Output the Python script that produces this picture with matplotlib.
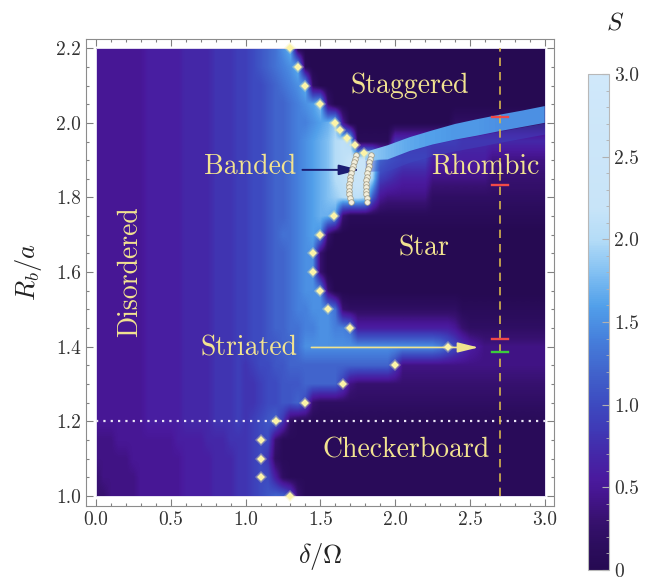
import numpy as np
import matplotlib
matplotlib.use('Agg')
import matplotlib.pyplot as plt
from matplotlib.colors import LinearSegmentedColormap
from matplotlib.patches import Rectangle, Polygon

plt.rcParams['font.family'] = 'cmr10'
plt.rcParams['mathtext.fontset'] = 'cm'
plt.rcParams['axes.unicode_minus'] = False

# S: delta = 0..3 (step 0.05), Rb = 2.2 -> 1.0 (step 0.05)
# one base-36 digit per cell, S = digit/10
B = "55555556666677778889"
S_rows = [
    B + "9abcdfh" + "0"*34,                                             # 2.20
    B + "9abcdefh" + "1" + "0"*32,                                      # 2.15
    B + "9aabcdefh" + "2" + "0"*31,                                     # 2.10
    B + "9aabccdefgi" + "3" + "0"*29,                                   # 2.05
    B + "9aabccdeefghj" + "5" + "0"*14 + "2"*13,                        # 2.00
    B + "9aabccdefghik" + "lk" + "1"*5 + "8"*9 + "7"*12,                # 1.95
    B + "9aabccdefghik" + "lmnnl" + "dba" + "9"*4 + "6"*8 + "4"*8,      # 1.90
    B + "9aabccdefghik" + "lmnnj" + "987" + "6"*4 + "4"*8 + "3"*8,      # 1.85
    B + "9aabccdefghij" + "kllkb5" + "4"*6 + "2"*16,                    # 1.80
    B + "9aabccdefghhg" + "3" + "1"*27,                                 # 1.75
    B + "9aabcddef" + "gf3" + "0"*29,                                   # 1.70
    B + "9aabccde" + "ff3" + "0"*30,                                    # 1.65
    B + "9aabccde" + "ff3" + "0"*30,                                    # 1.60
    B + "9aabccdef" + "ff3" + "0"*29,                                   # 1.55
    B + "9aabccdeeff" + "fd3" + "2"*15 + "1"*12,                        # 1.50
    B + "9aabccddeeffeed" + "6"*13 + "53" + "2"*11,                     # 1.45
    B + "9aabbccd" + "f"*18 + "eca865" + "4"*9,                         # 1.40
    B + "89aabbc" + "c"*13 + "9" + "4"*20,                              # 1.35
    B + "889aabbbccccc" + "94" + "3"*26,                                # 1.30
    B + "889aabbc" + "a3" + "2"*31,                                     # 1.25
    B + "89abc" + "82" + "1"*34,                                        # 1.20
    "44455555555666677788" + "89aa" + "3" + "1"*36,                     # 1.15
    "44444555555566667778" + "89a" + "82" + "1"*36,                     # 1.10
    "34444455555566667778" + "89aa" + "62" + "1"*35,                    # 1.05
    "33444455555566667778" + "89abcca" + "3" + "1"*33,                  # 1.00
]

# bright ridge on top of the rhombic phase
band_d = [1.80, 1.95, 2.10, 2.25, 2.40, 2.55, 2.70, 2.85, 3.00]
band_top = [1.922, 1.940, 1.962, 1.980, 1.997, 2.010, 2.022, 2.033, 2.045]
band_bot = [1.900, 1.902, 1.925, 1.942, 1.955, 1.966, 1.978, 1.989, 2.000]
band_s = [1.9, 1.75, 1.65, 1.6, 1.55, 1.55, 1.5, 1.5, 1.5]

# phase boundary points (yellow diamonds)
dia_d = [1.30, 1.35, 1.40, 1.50, 1.60, 1.63, 1.68, 1.73, 1.79,
         1.59, 1.50, 1.45, 1.45, 1.50, 1.55, 1.70, 2.35, 2.00, 1.65,
         1.40, 1.20, 1.10, 1.10, 1.10, 1.30]
dia_r = [2.20, 2.15, 2.10, 2.05, 2.00, 1.98, 1.96, 1.94, 1.92,
         1.75, 1.70, 1.65, 1.60, 1.55, 1.50, 1.45, 1.40, 1.35, 1.30,
         1.25, 1.20, 1.15, 1.10, 1.05, 1.00]

# banded phase points (white circles), two columns
band_r = [1.913, 1.904, 1.894, 1.884, 1.875, 1.865, 1.856, 1.846, 1.836,
          1.827, 1.817, 1.808, 1.798, 1.789]
band_left = [1.739, 1.731, 1.723, 1.716, 1.710, 1.704, 1.699, 1.695, 1.692,
             1.690, 1.690, 1.692, 1.696, 1.703]
band_right = [1.839, 1.833, 1.827, 1.822, 1.817, 1.813, 1.809, 1.806, 1.804,
              1.803, 1.803, 1.805, 1.809, 1.814]

red_r = [2.015, 1.834, 1.421]
green_r = [1.387]

labels = ['Staggered', 'Banded', 'Rhombic', 'Star', 'Disordered', 'Striated', 'Checkerboard']
label_d = [2.10, 1.03, 2.605, 2.19, 0.227, 1.025, 2.07]
label_r = [2.099, 1.883, 1.883, 1.664, 1.601, 1.396, 1.123]
label_rot = [0, 0, 0, 0, 90, 0, 0]

xticks = [0.0, 0.5, 1.0, 1.5, 2.0, 2.5, 3.0]
xtick_labels = ['0.0', '0.5', '1.0', '1.5', '2.0', '2.5', '3.0']
yticks = [1.0, 1.2, 1.4, 1.6, 1.8, 2.0, 2.2]
ytick_labels = ['1.0', '1.2', '1.4', '1.6', '1.8', '2.0', '2.2']
cticks = [0, 0.5, 1.0, 1.5, 2.0, 2.5, 3.0]
ctick_labels = ['0', '0.5', '1.0', '1.5', '2.0', '2.5', '3.0']

cmap_vals = [0.0, 0.15, 0.30, 0.45, 0.55, 0.70, 0.85, 1.00, 1.20, 1.40, 1.60, 1.80, 2.00, 2.20, 3.00]
cmap_cols = ['#260a52', '#2c0d5e', '#37116f', '#45158f', '#4a1a9e', '#4428a8', '#3f3ab6',
             '#3d4ac0', '#4164cc', '#4680dc', '#52a0ea', '#82c0f2', '#b4dcf7', '#c8e4f8', '#d0e8fa']
cmap = LinearSegmentedColormap.from_list('deepsea', [(v/3, c) for v, c in zip(cmap_vals, cmap_cols)])

Z = np.array([[int(ch, 36)/10 for ch in row] for row in S_rows])

fig = plt.figure(figsize=(6.48, 5.8), dpi=100)
ax = fig.add_axes([86/648, 74/580, 468/648, 466.7/580])
ax.set_xlim(-0.067, 3.062)
ax.set_ylim(0.973, 2.224)

im = ax.imshow(Z, extent=[-0.025, 3.025, 0.975, 2.225], origin='upper', cmap=cmap,
               vmin=0, vmax=3, interpolation='bilinear', aspect='auto', zorder=1)
im.set_clip_path(Rectangle((0, 1), 3, 1.2, transform=ax.transData))

# ridge, with a soft fringe underneath
bd = np.array(band_d)
ax.fill_between(bd, np.array(band_bot) - 0.03, band_bot, color=cmap(1.0/3), alpha=0.45,
                lw=0, zorder=1.4)
poly = Polygon(np.column_stack([np.concatenate([bd, bd[::-1]]),
                                np.concatenate([band_top, band_bot[::-1]])]),
               closed=True, transform=ax.transData)
im2 = ax.imshow(np.array([band_s]), extent=[bd[0]-0.075, bd[-1]+0.075, 1.85, 2.1],
                origin='upper', cmap=cmap, vmin=0, vmax=3, interpolation='bilinear',
                aspect='auto', zorder=1.5)
im2.set_clip_path(poly)

ax.add_patch(Rectangle((0, 1), 3, 1.2, fill=False, ec='#e4def2', lw=0.7, zorder=2))

ax.plot([0, 3], [1.2, 1.2], color='#ebe6f6', lw=1.6, linestyle=(0, (1, 2.3)), zorder=3)
ax.plot([2.7, 2.7], [1.0, 2.2], color='#d8b54c', lw=1.2, linestyle=(0, (5, 3.6)), zorder=3)
for r in red_r:
    ax.plot([2.645, 2.755], [r, r], color='#f04a48', lw=1.7, zorder=4)
for r in green_r:
    ax.plot([2.645, 2.755], [r, r], color='#3ccc3c', lw=1.7, zorder=4)

# arrows
ax.annotate('', xy=(1.766, 1.874), xytext=(1.38, 1.874),
            arrowprops=dict(arrowstyle='-|>,head_length=0.9,head_width=0.22', color='#1b1c72',
                            lw=1.4, mutation_scale=14, shrinkA=0, shrinkB=0), zorder=4)
ax.annotate('', xy=(2.557, 1.398), xytext=(1.44, 1.398),
            arrowprops=dict(arrowstyle='-|>,head_length=0.9,head_width=0.22', color='#f0e38e',
                            lw=1.2, mutation_scale=14, shrinkA=0, shrinkB=0), zorder=4)

ax.plot(dia_d, dia_r, 'D', color='#fbf3a4', ms=6, mew=0, alpha=0.35, zorder=5)
ax.plot(dia_d, dia_r, 'D', color='#fcf4a8', ms=4.2, mew=0, zorder=5)
ax.plot(band_left, band_r, 'o', mfc='#f2eedc', mec='#9d9680', ms=4, mew=0.5, zorder=6)
ax.plot(band_right, band_r, 'o', mfc='#f2eedc', mec='#9d9680', ms=4, mew=0.5, zorder=6)

for t, d, r, rot in zip(labels, label_d, label_r, label_rot):
    ax.text(d, r, t, color='#f2e390', fontsize=20, ha='center', va='center',
            rotation=rot, zorder=7)

ax.set_xticks(xticks)
ax.set_xticklabels(xtick_labels)
ax.set_yticks(yticks)
ax.set_yticklabels(ytick_labels)
ax.set_xticks(np.arange(0, 3.01, 0.1), minor=True)
ax.set_yticks(np.arange(1.0, 2.21, 0.05), minor=True)
ax.tick_params(which='both', direction='in', top=True, right=True, color='#808080',
               labelsize=14, labelcolor='#333333', width=0.8)
ax.tick_params(which='major', length=5)
ax.tick_params(which='minor', length=2.5)
for s in ax.spines.values():
    s.set_color('#8c8c8c')
    s.set_linewidth(0.8)

fig.text(320/648, 1 - 557/580, r'$\delta/\Omega$', fontsize=19, ha='center', va='center', color='#222222')
fig.text(29/648, 1 - 272/580, r'$R_b/a$', fontsize=19, ha='center', va='center', rotation=90, color='#222222')

cax = fig.add_axes([588/648, 10/580, 21/648, 496/580])
cb = fig.colorbar(im, cax=cax)
cb.set_ticks(cticks)
cb.set_ticklabels(ctick_labels)
cax.set_yticks(np.arange(0, 3.01, 0.1), minor=True)
cax.tick_params(which='both', direction='in', color='#b0b0b0', labelsize=14, labelcolor='#333333')
cax.tick_params(which='major', length=5)
cax.tick_params(which='minor', length=2.5)
cb.outline.set_edgecolor('#b8b8b8')
cb.outline.set_linewidth(0.8)
fig.text(615/648, 1 - 23/580, r'$S$', fontsize=18, ha='center', va='center', color='#222222')

fig.savefig('out.png', dpi=100)
